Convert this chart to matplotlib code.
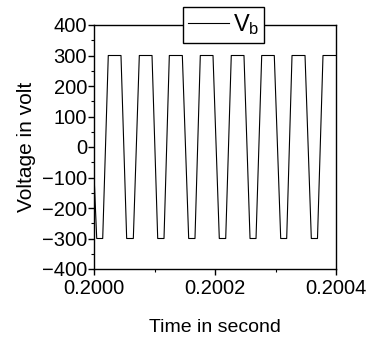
import matplotlib
matplotlib.use("Agg")
import matplotlib.pyplot as plt
from matplotlib.ticker import MultipleLocator, FormatStrFormatter

# vertices of the trapezoidal V_b waveform
t_s = [0.2000000, 0.2000045, 0.2000144, 0.2000236, 0.2000446,
       0.2000540, 0.2000650, 0.2000749, 0.2000959,
       0.2001053, 0.2001157, 0.2001245, 0.2001460,
       0.2001565, 0.2001669, 0.2001757, 0.2001967,
       0.2002071, 0.2002177, 0.2002269, 0.2002479,
       0.2002579, 0.2002678, 0.2002772, 0.2002980,
       0.2003086, 0.2003185, 0.2003273, 0.2003488,
       0.2003592, 0.2003694, 0.2003785, 0.2004000]
v_b = [-90, -300, -300, 300, 300,
       -300, -300, 300, 300,
       -300, -300, 300, 300,
       -300, -300, 300, 300,
       -300, -300, 300, 300,
       -300, -300, 300, 300,
       -300, -300, 300, 300,
       -300, -300, 300, 300]

x_ticks = [0.2000, 0.2002, 0.2004]
y_ticks = [-400, -300, -200, -100, 0, 100, 200, 300, 400]

plt.rcParams["font.family"] = ["Liberation Sans", "DejaVu Sans"]
plt.rcParams["mathtext.fontset"] = "custom"
plt.rcParams["mathtext.rm"] = "Liberation Sans"
plt.rcParams["mathtext.it"] = "Liberation Sans"

fig = plt.figure(figsize=(3.71, 3.47), dpi=100)
ax = fig.add_axes([94 / 371, 1 - 269 / 347, 242 / 371, 244 / 347])

ax.plot(t_s, v_b, color="black", linewidth=0.8, label=r"V$_\mathrm{b}$")

ax.set_xlim(0.2000, 0.2004)
ax.set_ylim(-400, 400)
ax.set_xticks(x_ticks)
ax.set_yticks(y_ticks)
ax.xaxis.set_major_formatter(FormatStrFormatter("%.4f"))
ax.xaxis.set_minor_locator(MultipleLocator(0.0001))
ax.yaxis.set_minor_locator(MultipleLocator(50))
ax.tick_params(which="major", direction="out", length=4, width=1, labelsize=14.5, pad=1)
ax.tick_params(axis="x", which="major", pad=3)
ax.tick_params(which="minor", direction="out", length=2.5, width=0.8)
ax.tick_params(top=False, right=False)
for s in ax.spines.values():
    s.set_linewidth(1)

ax.set_xlabel("Time in second", fontsize=14, labelpad=15)
ax.set_ylabel("Voltage in volt", fontsize=15, labelpad=4)

leg = ax.legend(loc="center", bbox_to_anchor=(223.5 / 371, 1 - 25 / 347), bbox_transform=fig.transFigure,
                fontsize=17, frameon=True, fancybox=False, handlelength=1.75, handletextpad=0.15,
                borderpad=0.22, borderaxespad=0)
leg.get_frame().set_edgecolor("black")
leg.get_frame().set_linewidth(1)
leg.get_frame().set_alpha(1)

fig.savefig("out.png", dpi=100)
